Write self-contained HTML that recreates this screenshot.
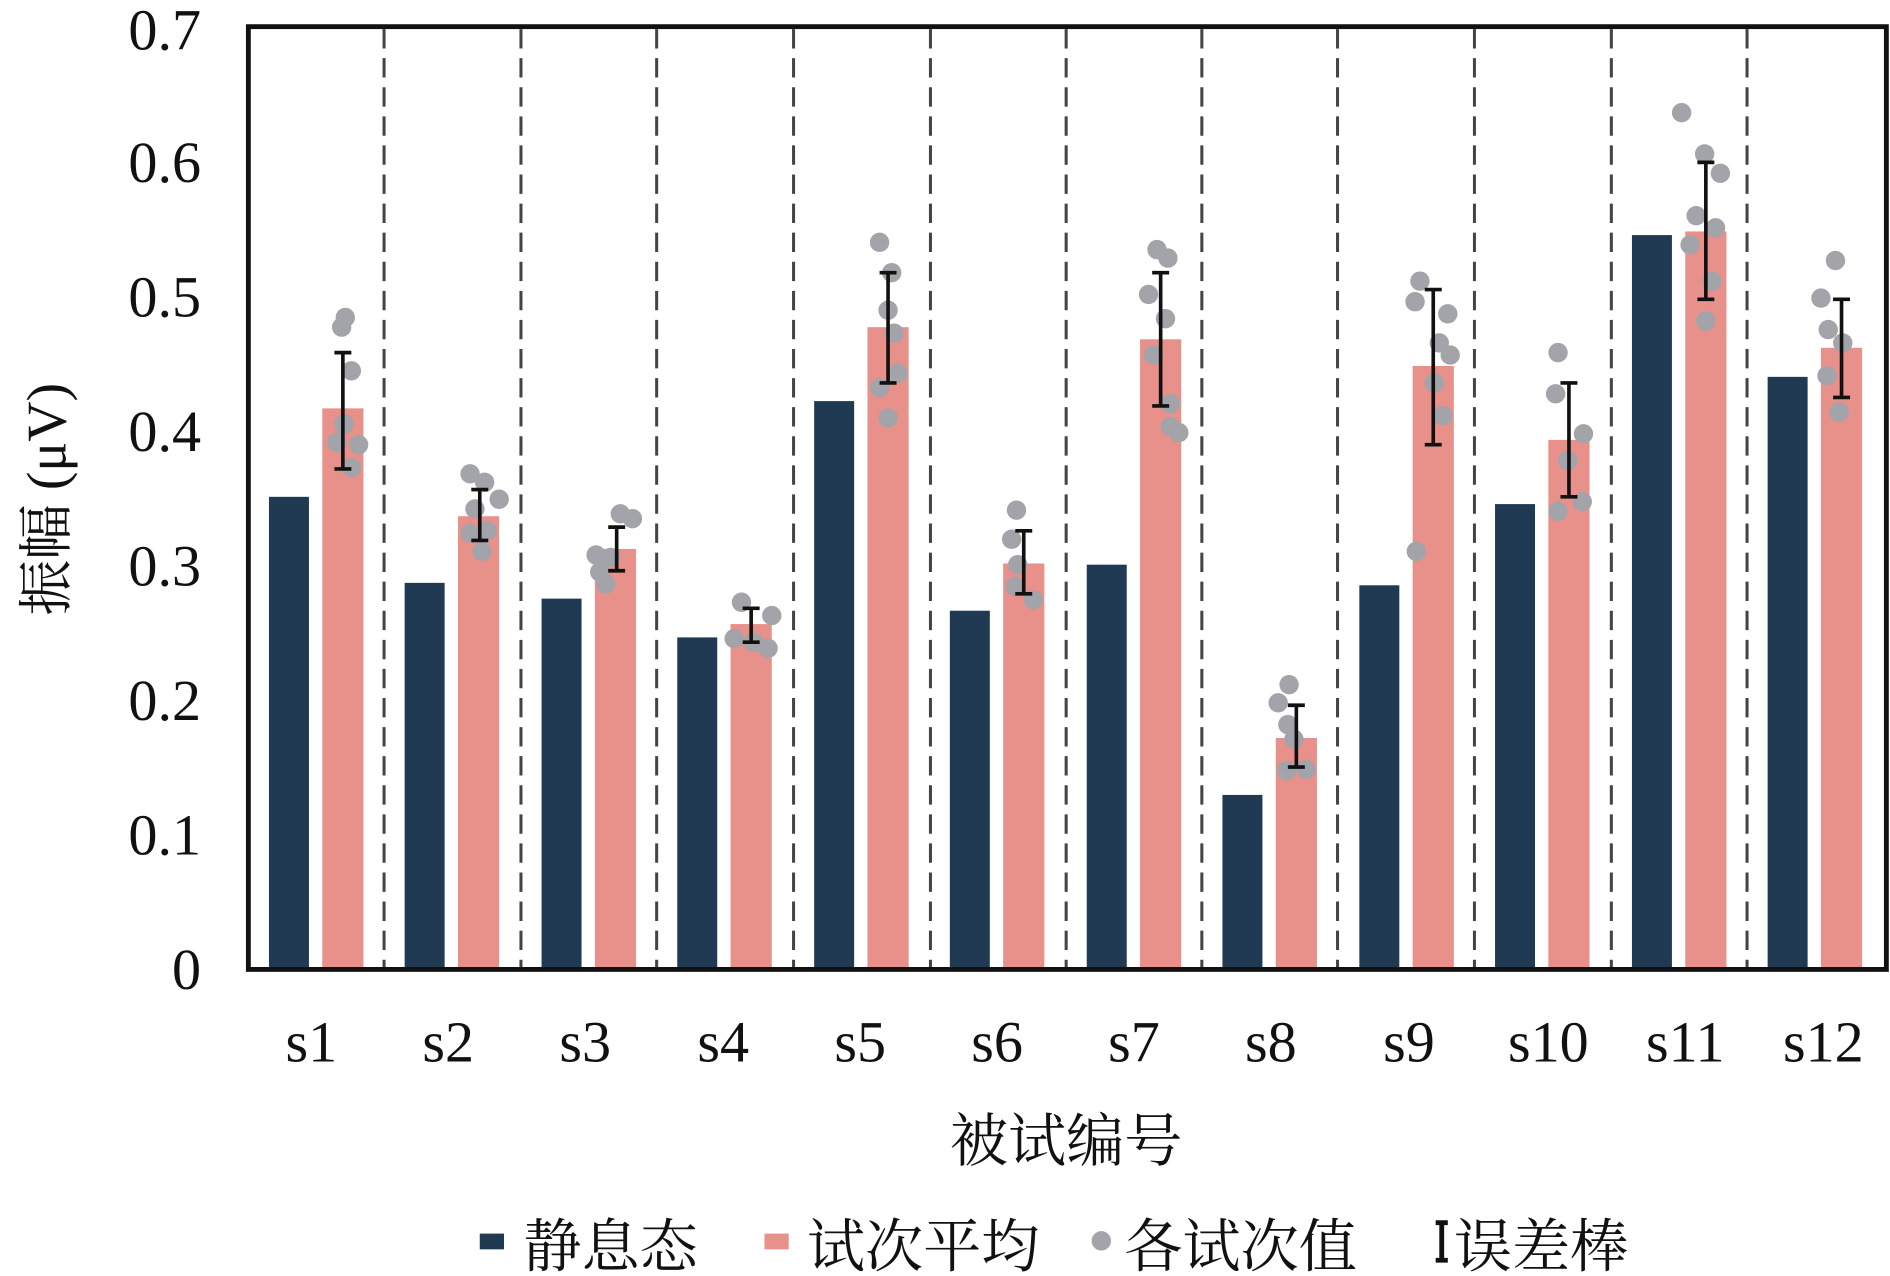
<!DOCTYPE html>
<html><head><meta charset="utf-8"><style>body{margin:0;background:#fff}svg{display:block}</style></head><body>
<svg width="1890" height="1276" viewBox="0 0 1560 1053" preserveAspectRatio="none" xmlns="http://www.w3.org/2000/svg">
<g stroke="#444" stroke-width="2.5" stroke-dasharray="16,8">
<line x1="317" y1="24" x2="317" y2="798"/><line x1="430" y1="24" x2="430" y2="798"/><line x1="542" y1="24" x2="542" y2="798"/><line x1="655" y1="24" x2="655" y2="798"/><line x1="768" y1="24" x2="768" y2="798"/><line x1="880" y1="24" x2="880" y2="798"/><line x1="992" y1="24" x2="992" y2="798"/><line x1="1104" y1="24" x2="1104" y2="798"/><line x1="1217" y1="24" x2="1217" y2="798"/><line x1="1330" y1="24" x2="1330" y2="798"/><line x1="1442" y1="24" x2="1442" y2="798"/>
</g>
<g fill="#1f3a52">
<rect x="222" y="410" width="33" height="390"/><rect x="334" y="481" width="33" height="319"/><rect x="447" y="494" width="33" height="306"/><rect x="559" y="526" width="33" height="274"/><rect x="672" y="331" width="33" height="469"/><rect x="784" y="504" width="33" height="296"/><rect x="897" y="466" width="33" height="334"/><rect x="1009" y="656" width="33" height="144"/><rect x="1122" y="483" width="33" height="317"/><rect x="1234" y="416" width="33" height="384"/><rect x="1347" y="194" width="33" height="606"/><rect x="1459" y="311" width="33" height="489"/>
</g>
<g fill="#e8908a">
<rect x="266" y="337" width="34" height="463"/><rect x="378" y="426" width="34" height="374"/><rect x="491" y="453" width="34" height="347"/><rect x="603" y="515" width="34" height="285"/><rect x="716" y="270" width="34" height="530"/><rect x="828" y="465" width="34" height="335"/><rect x="941" y="280" width="34" height="520"/><rect x="1053" y="609" width="34" height="191"/><rect x="1166" y="302" width="34" height="498"/><rect x="1278" y="363" width="34" height="437"/><rect x="1391" y="191" width="34" height="609"/><rect x="1503" y="287" width="34" height="513"/>
</g>
<g fill="#a3a3aa">
<circle cx="285" cy="262" r="8"/><circle cx="282" cy="270" r="8"/><circle cx="290" cy="306" r="8"/><circle cx="278" cy="365" r="8"/><circle cx="296" cy="367" r="8"/><circle cx="290" cy="386" r="8"/><circle cx="284" cy="350" r="8"/>
<circle cx="388" cy="391" r="8"/><circle cx="400" cy="398" r="8"/><circle cx="412" cy="412" r="8"/><circle cx="392" cy="420" r="8"/><circle cx="402" cy="438" r="8"/><circle cx="398" cy="455" r="8"/><circle cx="388" cy="440" r="8"/>
<circle cx="512" cy="424" r="8"/><circle cx="522" cy="428" r="8"/><circle cx="492" cy="458" r="8"/><circle cx="504" cy="460" r="8"/><circle cx="495" cy="472" r="8"/><circle cx="500" cy="482" r="8"/>
<circle cx="612" cy="497" r="8"/><circle cx="637" cy="508" r="8"/><circle cx="606" cy="527" r="8"/><circle cx="622" cy="530" r="8"/><circle cx="634" cy="535" r="8"/>
<circle cx="726" cy="200" r="8"/><circle cx="736" cy="225" r="8"/><circle cx="733" cy="256" r="8"/><circle cx="738" cy="275" r="8"/><circle cx="741" cy="308" r="8"/><circle cx="726" cy="320" r="8"/><circle cx="733" cy="345" r="8"/>
<circle cx="839" cy="421" r="8"/><circle cx="835" cy="445" r="8"/><circle cx="840" cy="466" r="8"/><circle cx="838" cy="484" r="8"/><circle cx="853" cy="495" r="8"/>
<circle cx="955" cy="206" r="8"/><circle cx="964" cy="213" r="8"/><circle cx="948" cy="243" r="8"/><circle cx="962" cy="263" r="8"/><circle cx="952" cy="293" r="8"/><circle cx="966" cy="333" r="8"/><circle cx="966" cy="352" r="8"/><circle cx="973" cy="357" r="8"/>
<circle cx="1064" cy="565" r="8"/><circle cx="1055" cy="580" r="8"/><circle cx="1063" cy="598" r="8"/><circle cx="1068" cy="610" r="8"/><circle cx="1062" cy="636" r="8"/><circle cx="1078" cy="635" r="8"/>
<circle cx="1172" cy="232" r="8"/><circle cx="1168" cy="249" r="8"/><circle cx="1195" cy="259" r="8"/><circle cx="1188" cy="283" r="8"/><circle cx="1197" cy="293" r="8"/><circle cx="1184" cy="316" r="8"/><circle cx="1191" cy="343" r="8"/><circle cx="1169" cy="455" r="8"/>
<circle cx="1286" cy="291" r="8"/><circle cx="1284" cy="325" r="8"/><circle cx="1307" cy="358" r="8"/><circle cx="1294" cy="380" r="8"/><circle cx="1286" cy="422" r="8"/><circle cx="1306" cy="414" r="8"/>
<circle cx="1388" cy="93" r="8"/><circle cx="1407" cy="127" r="8"/><circle cx="1420" cy="143" r="8"/><circle cx="1400" cy="178" r="8"/><circle cx="1416" cy="188" r="8"/><circle cx="1395" cy="202" r="8"/><circle cx="1413" cy="232" r="8"/><circle cx="1408" cy="265" r="8"/>
<circle cx="1515" cy="215" r="8"/><circle cx="1503" cy="246" r="8"/><circle cx="1509" cy="272" r="8"/><circle cx="1521" cy="283" r="8"/><circle cx="1508" cy="310" r="8"/><circle cx="1518" cy="340" r="8"/>
</g>
<g stroke="#111" stroke-width="3" fill="none">
<path d="M283 291V387M276 291H290M276 387H290"/>
<path d="M396 404V446M389 404H403M389 446H403"/>
<path d="M509 435V471M502 435H516M502 471H516"/>
<path d="M620 502V530M613 502H627M613 530H627"/>
<path d="M733 225V316M726 225H740M726 316H740"/>
<path d="M845 438V490M838 438H852M838 490H852"/>
<path d="M958 225V335M951 225H965M951 335H965"/>
<path d="M1070 582V633M1063 582H1077M1063 633H1077"/>
<path d="M1183 239V367M1176 239H1190M1176 367H1190"/>
<path d="M1295 316V410M1288 316H1302M1288 410H1302"/>
<path d="M1408 134V247M1401 134H1415M1401 247H1415"/>
<path d="M1520 247V328M1513 247H1527M1513 328H1527"/>
</g>
<rect x="205" y="22" width="1352" height="778" fill="none" stroke="#111" stroke-width="4"/>
<g font-family="'Liberation Serif',serif" font-size="48" fill="#111" text-anchor="end">
<text x="166" y="816">0</text><text x="166" y="705">0.1</text><text x="166" y="594">0.2</text><text x="166" y="483">0.3</text><text x="166" y="372">0.4</text><text x="166" y="261">0.5</text><text x="166" y="150">0.6</text><text x="166" y="41">0.7</text>
</g>
<g font-family="'Liberation Serif',serif" font-size="48" fill="#111" text-anchor="middle">
<text x="257" y="876">s1</text><text x="370" y="876">s2</text><text x="483" y="876">s3</text><text x="597" y="876">s4</text><text x="710" y="876">s5</text><text x="823" y="876">s6</text><text x="936" y="876">s7</text><text x="1049" y="876">s8</text><text x="1163" y="876">s9</text><text x="1278" y="876">s10</text><text x="1391" y="876">s11</text><text x="1505" y="876">s12</text>
</g>
<text x="880" y="958" text-anchor="middle" font-family="'Liberation Serif','Noto Serif CJK SC',serif" font-size="48" fill="#111">被试编号</text>
<text transform="translate(54,412) rotate(-90)" text-anchor="middle" font-family="'Liberation Serif','Noto Serif CJK SC',serif" font-size="46" fill="#111">振幅 (μV)</text>
<g font-family="'Liberation Serif','Noto Serif CJK SC',serif" font-size="48" fill="#111">
<rect x="396" y="1018" width="20" height="13" fill="#1f3a52"/><text x="432" y="1045">静息态</text>
<rect x="631" y="1018" width="20" height="13" fill="#e8908a"/><text x="666" y="1045">试次平均</text>
<circle cx="909" cy="1024" r="8" fill="#a3a3aa"/><text x="928" y="1045">各试次值</text>
<path d="M1190 1009V1040M1185 1009H1195M1185 1040H1195" stroke="#111" stroke-width="4"/><text x="1200" y="1045">误差棒</text>
</g>
</svg>
</body></html>
